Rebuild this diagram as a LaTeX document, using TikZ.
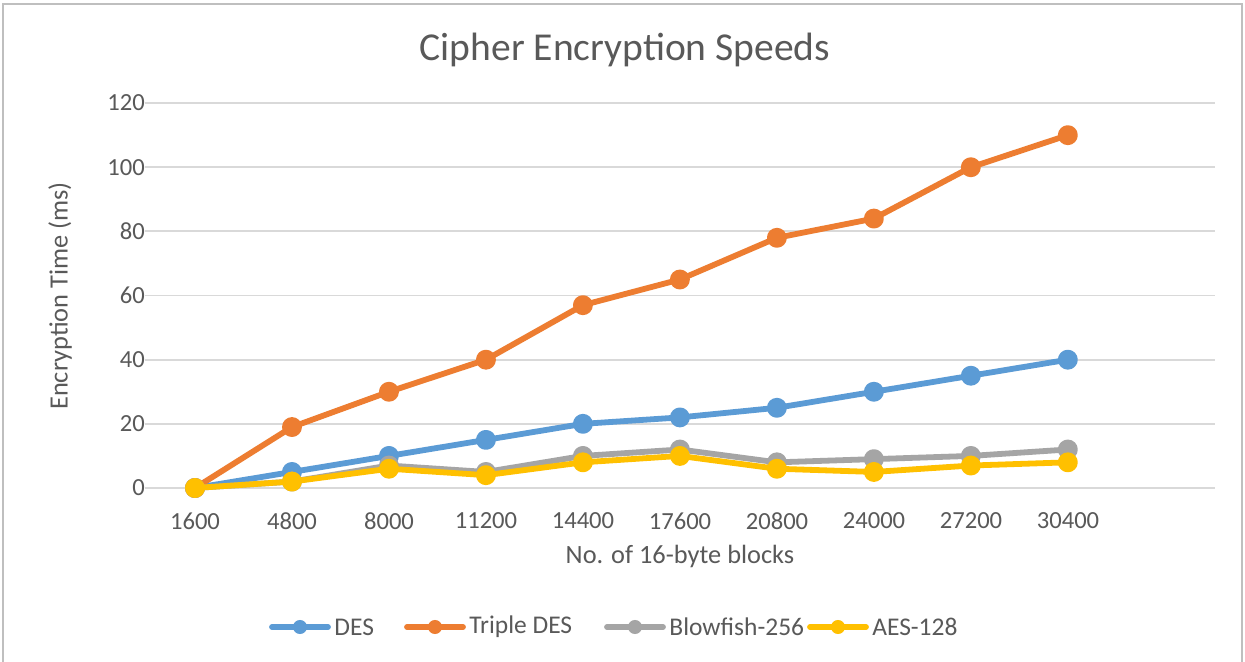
\documentclass[tikz,border=0pt]{standalone}
\usepackage{fontspec}
\setmainfont{Carlito}

\definecolor{desblue}{HTML}{5B9BD5}
\definecolor{tdesorange}{HTML}{ED7D31}
\definecolor{bfgrey}{HTML}{A5A5A5}
\definecolor{aesgold}{HTML}{FFC000}
\definecolor{labelgrey}{HTML}{595959}
\definecolor{gridgrey}{HTML}{D9D9D9}

\tikzset{
    series/.style={line width=3.3pt, line join=round, line cap=round, mark=*, mark size=4pt},
    keyline/.style={line width=3.3pt, line cap=round},
    keydot/.style={shape=circle, fill, inner sep=0pt, minimum size=8pt},
    gridline/.style={draw=gridgrey, line width=1pt},
    ticklabel/.style={font=\fontsize{14}{16}\selectfont, text=labelgrey},
    keylabel/.style={font=\fontsize{14.5}{17}\selectfont, text=labelgrey, anchor=west, inner sep=2pt},
    axistitle/.style={font=\fontsize{15}{18}\selectfont, text=labelgrey},
}

\begin{document}
\begin{tikzpicture}[x=0.02cm, y=0.02cm]
        \useasboundingbox (0, 0) rectangle (1245, 662);
        \fill[white] (0, 0) rectangle (1245, 662);
        \draw[black!25, line width=0.8pt] (3, -5) -- (3, 658) -- (1242, 658) -- (1242, -5);

        \node[font=\fontsize{22.5}{26}\selectfont, text=labelgrey] (title) at (625, 612) {Cipher Encryption Speeds};

        % value grid and y ticks
        \foreach \v in {0, 20, ..., 120} {
            \draw[gridline] (145, 174 + 3.2083*\v) -- (1215, 174 + 3.2083*\v);
            \node[ticklabel, anchor=east] (y\v) at (151, 174 + 3.2083*\v) {\v};
        }

        % categories
        \foreach \b [count=\i from 0] in {1600, 4800, 8000, 11200, 14400, 17600, 20800, 24000, 27200, 30400} {
            \node[ticklabel] (x\i) at (195 + 97*\i, 141) {\b};
        }

        \node[axistitle] (xtitle) at (680, 106) {No. of 16-byte blocks};
        \node[axistitle, rotate=90] (ytitle) at (60, 366) {Encryption Time (ms)};

        \begin{scope}[shift={(195, 174)}, x=1.94cm, y=0.064167cm]
            \draw[series, desblue] plot coordinates {(0,0) (1,5) (2,10) (3,15) (4,20) (5,22) (6,25) (7,30) (8,35) (9,40)};
            \draw[series, tdesorange] plot coordinates {(0,0) (1,19) (2,30) (3,40) (4,57) (5,65) (6,78) (7,84) (8,100) (9,110)};
            \draw[series, bfgrey] plot coordinates {(0,0) (1,2) (2,7) (3,5) (4,10) (5,12) (6,8) (7,9) (8,10) (9,12)};
            \draw[series, aesgold] plot coordinates {(0,0) (1,2) (2,6) (3,4) (4,8) (5,10) (6,6) (7,5) (8,7) (9,8)};
        \end{scope}

        % legend
        \coordinate (kDES) at (272, 35);
        \coordinate (kTDES) at (407, 35);
        \coordinate (kBF) at (607, 35);
        \coordinate (kAES) at (810, 35);
        \draw[keyline, desblue] (kDES) -- ++(56, 0) node[pos=0.5, keydot] {} node[keylabel] {DES};
        \draw[keyline, tdesorange] (kTDES) -- ++(56, 0) node[pos=0.5, keydot] {} node[keylabel] {Triple DES};
        \draw[keyline, bfgrey] (kBF) -- ++(56, 0) node[pos=0.5, keydot] {} node[keylabel] {Blowfish-256};
        \draw[keyline, aesgold] (kAES) -- ++(56, 0) node[pos=0.5, keydot] {} node[keylabel] {AES-128};

    \end{tikzpicture}
\end{document}
